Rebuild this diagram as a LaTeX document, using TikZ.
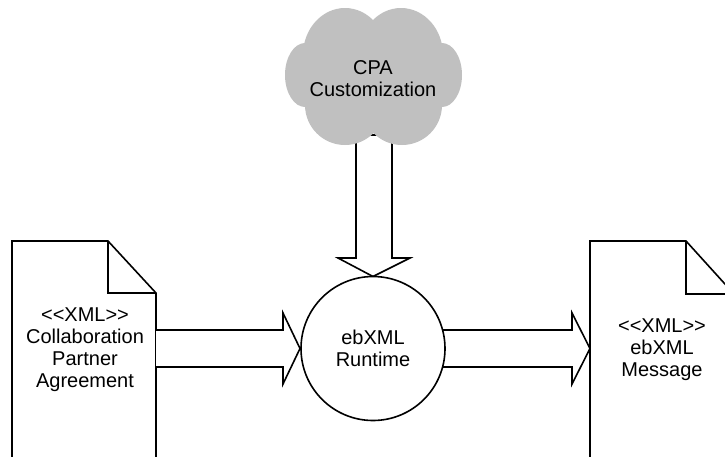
\documentclass[tikz,border=0pt]{standalone}
\usepackage{fontspec}
\setmainfont{Liberation Sans}[Ligatures=TeXOff]
\begin{document}
\begin{tikzpicture}[x=1pt,y=-1pt,
  outline/.style={draw=black,line width=1.6pt,line join=miter},
  blockarrow/.style={outline,fill=white},
  label/.style={align=center,font=\fontsize{20}{22}\selectfont,inner sep=0pt},
  puff/.style={fill=cloudgrey,draw=none}]
\definecolor{cloudgrey}{RGB}{192,192,192}
\useasboundingbox (0,0) rectangle (725,456);
\clip (0,0) rectangle (725,456);

% named anchor points
\coordinate (lefttip) at (300,348.5);
\coordinate (righttip) at (590,348.5);
\coordinate (downtip) at (373,276.5);

% document shapes with folded corner
\draw[outline] (12,470) -- (12,241) -- (108,241) -- (156,293) -- (156,470);
\draw[outline] (108,241) -- (108,293) -- (156,293);
\node[label] (cpa) at (85,350) {<<XML>>\\Collaboration\\Partner\\Agreement};

\draw[outline] (590,470) -- (590,241) -- (686,241) -- (734,294) -- (734,470);
\draw[outline] (686,241) -- (686,294) -- (734,294);
\node[label] (msg) at (662,350) {<<XML>>\\ebXML\\Message};

% block arrows
\draw[blockarrow] (156,330) -- (283,330) -- (283,313) -- (lefttip) -- (283,384) -- (283,367) -- (156,367);
\draw[blockarrow] (440,330) -- (572,330) -- (572,313) -- (righttip) -- (572,384) -- (572,367) -- (440,367);
\draw[blockarrow] (356,135) -- (356,258) -- (338,258) -- (downtip) -- (410,258) -- (392,258) -- (392,135) -- cycle;

% runtime engine
\node[outline,circle,fill=white,minimum size=144pt,inner sep=0pt] (runtime) at (373,348.5) {};
\node[label] (runtimetext) at (runtime.center) {ebXML\\Runtime};

% customization cloud
\fill[puff] (345,55) ellipse [x radius=42,y radius=47];
\fill[puff] (401,55) ellipse [x radius=42,y radius=47];
\fill[puff] (373,80) ellipse [x radius=70,y radius=50];
\fill[puff] (305,75) ellipse [x radius=20,y radius=32];
\fill[puff] (442,75) ellipse [x radius=20,y radius=32];
\fill[puff] (345,105) ellipse [x radius=40,y radius=40];
\fill[puff] (402,105) ellipse [x radius=40,y radius=40];
\node[label] (cloud) at (373,79) {CPA\\Customization};
\end{tikzpicture}
\end{document}
